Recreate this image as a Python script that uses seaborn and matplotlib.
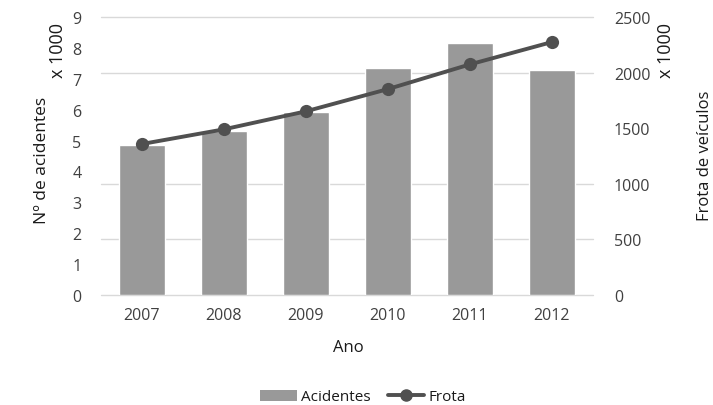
import matplotlib
matplotlib.use("Agg")
import matplotlib.pyplot as plt
import matplotlib.transforms as mtransforms
import seaborn as sns
import pandas as pd
from matplotlib.lines import Line2D
from matplotlib.patches import Patch

# Data (thousands)
anos = ["2007", "2008", "2009", "2010", "2011", "2012"]
acidentes = [4.86, 5.31, 5.92, 7.35, 8.16, 7.28]
frota = [1358, 1490, 1652, 1852, 2074, 2275]

left_ticks = [0, 1, 2, 3, 4, 5, 6, 7, 8, 9]
right_ticks = [0, 500, 1000, 1500, 2000, 2500]
grid_levels = [0, 500, 1000, 2000, 2500]

df = pd.DataFrame({"Ano": anos, "Acidentes": acidentes, "Frota": frota})

sns.set_theme(style="white")
plt.rcParams["font.family"] = ["Open Sans", "DejaVu Sans"]

text_col = "#404040"
label_col = "#1a1a1a"
bar_col = "#999999"
line_col = "#505050"
grid_col = "#d9d9d9"

fig = plt.figure(figsize=(7.13, 4.06), dpi=100)
ax = fig.add_axes([101 / 713, 1 - 296 / 406, 492 / 713, 278 / 406])
ax2 = ax.twinx()

ax.set_zorder(0)
ax2.set_zorder(1)
ax2.patch.set_visible(False)

sns.barplot(data=df, x="Ano", y="Acidentes", ax=ax, color=bar_col,
            width=0.565, saturation=1, zorder=2)
sns.lineplot(data=df, x="Ano", y="Frota", ax=ax2, color=line_col,
             lw=2.8, marker="o", markersize=9.5, markeredgewidth=0, zorder=3)

ax.set_ylim(0, 9)
ax2.set_ylim(0, 2500)
ax.set_xlim(-0.5, 5.5)
ax.set_yticks(left_ticks)
ax2.set_yticks(right_ticks)

# gridlines follow the right-hand scale, drawn behind the bars
grid_tf = mtransforms.blended_transform_factory(ax.transAxes, ax2.transData)
for g in grid_levels:
    ax.plot([0, 1], [g, g], transform=grid_tf, color=grid_col, lw=1.0,
            zorder=0.5, clip_on=False)

for a in (ax, ax2):
    for s in a.spines.values():
        s.set_visible(False)
    a.set_xlabel("")
    a.set_ylabel("")
    a.tick_params(axis="both", length=0, labelsize=11.5, labelcolor=text_col)
ax.tick_params(axis="y", pad=14)
ax2.tick_params(axis="y", pad=15)
ax.tick_params(axis="x", pad=9)

fig.text(42 / 713, 1 - 160 / 406, "Nº de acidentes", rotation=90,
         ha="center", va="center", fontsize=12.5, color=label_col)
fig.text(58 / 713, 1 - 51 / 406, "x 1000", rotation=90,
         ha="center", va="center", fontsize=13, color=label_col)
fig.text(666 / 713, 1 - 51 / 406, "x 1000", rotation=90,
         ha="center", va="center", fontsize=13, color=label_col)
fig.text(705 / 713, 1 - 156 / 406, "Frota de veículos", rotation=90,
         ha="center", va="center", fontsize=12, color=label_col)
fig.text(348 / 713, 1 - 348 / 406, "Ano", ha="center", va="center",
         fontsize=12, color=label_col)

handles = [Patch(facecolor=bar_col, edgecolor="none"),
           Line2D([], [], color=line_col, lw=2.8, marker="o", markersize=8)]
fig.legend(handles, ["Acidentes", "Frota"], loc="center",
           bbox_to_anchor=(363 / 713, 1 - 398 / 406), ncol=2, frameon=False,
           fontsize=11, handlelength=2.4, handleheight=0.7, columnspacing=1.1,
           handletextpad=0.3, labelcolor=label_col)

fig.savefig("out.png", dpi=100)
